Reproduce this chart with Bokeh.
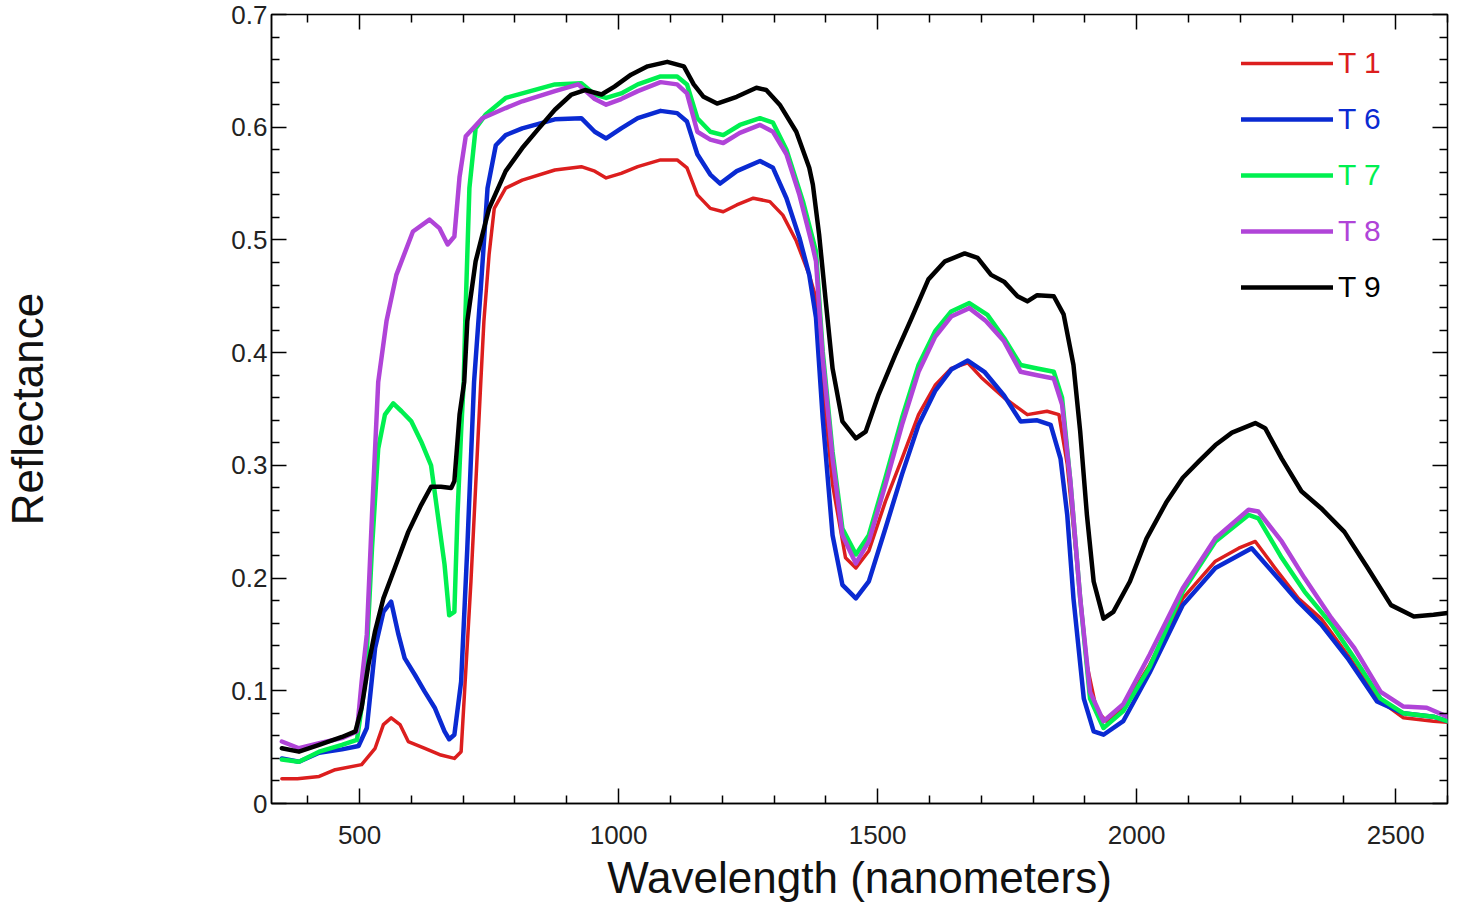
from bokeh.plotting import figure
from bokeh.models import LinearAxis, FixedTicker, Range1d, Legend, LegendItem
from bokeh.embed import file_html
from bokeh.resources import INLINE

# ---------------- data ----------------
X_TICKS = [500, 1000, 1500, 2000, 2500]
X_MINOR = [400, 600, 700, 800, 900, 1100, 1200, 1300, 1400, 1600, 1700, 1800,
           1900, 2100, 2200, 2300, 2400, 2600]
Y_TICKS = [0, 0.1, 0.2, 0.3, 0.4, 0.5, 0.6, 0.7]
Y_MINOR = [0.02, 0.04, 0.06, 0.08, 0.12, 0.14, 0.16, 0.18, 0.22, 0.24, 0.26, 0.28,
           0.32, 0.34, 0.36, 0.38, 0.42, 0.44, 0.46, 0.48, 0.52, 0.54, 0.56, 0.58,
           0.62, 0.64, 0.66, 0.68]
Y_LABELS = {0: "0"}

NAMES = ["T 1", "T 6", "T 7", "T 8", "T 9"]
COLORS = ["#dc1e1e", "#0a2ad2", "#00f050", "#b044d8", "#000000"]

WL_T1 = [350, 380, 422, 453, 504, 530, 546, 561, 578, 594, 626, 657, 683, 696, 715, 734,
         740, 750, 760, 782, 814, 877, 928, 954, 976, 1005, 1037, 1081, 1113, 1132, 1152,
         1177, 1202, 1228, 1260, 1292, 1317, 1343, 1368, 1380, 1394, 1413, 1438, 1458,
         1483, 1515, 1547, 1579, 1611, 1642, 1674, 1700, 1744, 1789, 1827, 1850, 1866,
         1885, 1904, 1923, 1942, 1974, 2025, 2089, 2152, 2197, 2229, 2267, 2312, 2356,
         2407, 2464, 2515, 2573, 2600]
T1 = [0.022, 0.022, 0.024, 0.030, 0.0345, 0.049, 0.070, 0.076, 0.070, 0.055, 0.049, 0.043,
      0.040, 0.046, 0.197, 0.374, 0.428, 0.487, 0.528, 0.546, 0.553, 0.562, 0.565, 0.561,
      0.555, 0.559, 0.565, 0.571, 0.571, 0.564, 0.540, 0.528, 0.525, 0.531, 0.537, 0.534,
      0.522, 0.499, 0.469, 0.450, 0.372, 0.283, 0.218, 0.209, 0.224, 0.268, 0.306, 0.345,
      0.371, 0.386, 0.391, 0.378, 0.360, 0.345, 0.348, 0.345, 0.301, 0.212, 0.123, 0.082,
      0.073, 0.085, 0.123, 0.182, 0.215, 0.2265, 0.2325, 0.209, 0.182, 0.164, 0.132, 0.093,
      0.076, 0.073, 0.072]

WL_T6 = [350, 383, 422, 466, 498, 514, 530, 546, 561, 575, 587, 607, 626, 645, 664, 673,
         683, 696, 708, 721, 734, 747, 763, 782, 814, 877, 928, 954, 976, 1005, 1037, 1081,
         1113, 1132, 1152, 1177, 1196, 1228, 1273, 1298, 1324, 1349, 1368, 1381, 1394, 1413,
         1432, 1458, 1483, 1515, 1547, 1579, 1611, 1642, 1674, 1706, 1744, 1776, 1808, 1834,
         1853, 1866, 1878, 1898, 1917, 1936, 1974, 2025, 2089, 2152, 2222, 2267, 2312, 2356,
         2407, 2464, 2515, 2573, 2600]
T6 = [0.040, 0.037, 0.045, 0.048, 0.051, 0.067, 0.138, 0.170, 0.179, 0.150, 0.129, 0.114,
      0.099, 0.085, 0.064, 0.057, 0.061, 0.108, 0.227, 0.374, 0.457, 0.546, 0.584, 0.593,
      0.599, 0.607, 0.608, 0.596, 0.590, 0.599, 0.608, 0.6145, 0.6125, 0.605, 0.576, 0.558,
      0.550, 0.561, 0.570, 0.564, 0.537, 0.502, 0.469, 0.431, 0.342, 0.238, 0.194, 0.182,
      0.197, 0.244, 0.292, 0.336, 0.366, 0.385, 0.393, 0.383, 0.362, 0.339, 0.340, 0.336,
      0.306, 0.256, 0.182, 0.093, 0.064, 0.061, 0.073, 0.116, 0.176, 0.209, 0.2265, 0.203,
      0.179, 0.159, 0.129, 0.0905, 0.080, 0.077, 0.073]

WL_T7 = [350, 383, 422, 466, 495, 511, 524, 536, 549, 565, 581, 600, 619, 638, 651, 664,
         673, 683, 689, 696, 701, 704, 712, 724, 743, 782, 814, 877, 928, 954, 976, 1005,
         1037, 1081, 1113, 1132, 1152, 1177, 1202, 1234, 1273, 1298, 1324, 1356, 1381, 1394,
         1413, 1432, 1458, 1483, 1515, 1547, 1579, 1611, 1642, 1677, 1712, 1744, 1776, 1808,
         1840, 1856, 1872, 1891, 1910, 1936, 1974, 2025, 2089, 2152, 2216, 2235, 2280, 2324,
         2376, 2420, 2471, 2515, 2573, 2600]
T7 = [0.039, 0.037, 0.046, 0.052, 0.0565, 0.108, 0.2265, 0.315, 0.345, 0.355, 0.348, 0.339,
      0.321, 0.300, 0.256, 0.212, 0.167, 0.170, 0.256, 0.330, 0.374, 0.428, 0.546, 0.599,
      0.611, 0.626, 0.630, 0.638, 0.639, 0.629, 0.626, 0.630, 0.638, 0.645, 0.645, 0.638,
      0.608, 0.596, 0.593, 0.602, 0.608, 0.604, 0.580, 0.534, 0.490, 0.401, 0.312, 0.244,
      0.221, 0.238, 0.289, 0.342, 0.389, 0.419, 0.4365, 0.444, 0.4335, 0.413, 0.389, 0.386,
      0.383, 0.360, 0.286, 0.182, 0.093, 0.067, 0.082, 0.121, 0.188, 0.2325, 0.256, 0.253,
      0.218, 0.188, 0.159, 0.129, 0.093, 0.080, 0.077, 0.073]

WL_T8 = [350, 383, 422, 466, 495, 504, 514, 524, 536, 552, 571, 603, 635, 654, 670, 683,
         693, 705, 737, 782, 814, 877, 922, 954, 976, 1005, 1037, 1081, 1113, 1132, 1152,
         1177, 1202, 1234, 1273, 1298, 1324, 1349, 1375, 1381, 1394, 1413, 1432, 1458, 1483,
         1515, 1547, 1579, 1611, 1642, 1677, 1709, 1744, 1776, 1808, 1840, 1856, 1872, 1891,
         1910, 1936, 1974, 2025, 2089, 2152, 2216, 2235, 2280, 2324, 2376, 2420, 2471, 2515,
         2560, 2600]
T8 = [0.055, 0.049, 0.0535, 0.058, 0.064, 0.108, 0.150, 0.256, 0.374, 0.428, 0.469, 0.5075,
      0.518, 0.5105, 0.496, 0.503, 0.556, 0.592, 0.608, 0.617, 0.623, 0.632, 0.638, 0.625,
      0.620, 0.625, 0.632, 0.640, 0.638, 0.630, 0.596, 0.589, 0.586, 0.595, 0.602, 0.596,
      0.576, 0.540, 0.493, 0.481, 0.395, 0.306, 0.238, 0.213, 0.2325, 0.283, 0.336, 0.383,
      0.414, 0.432, 0.4395, 0.428, 0.410, 0.383, 0.380, 0.377, 0.354, 0.286, 0.182, 0.099,
      0.073, 0.088, 0.132, 0.191, 0.2354, 0.2606, 0.259, 0.2325, 0.200, 0.1644, 0.138, 0.099,
      0.086, 0.085, 0.077]

WL_T9 = [350, 383, 422, 466, 492, 504, 517, 530, 546, 568, 594, 619, 638, 657, 677, 683,
         693, 702, 708, 724, 750, 782, 814, 846, 877, 909, 935, 967, 992, 1024, 1056, 1094,
         1126, 1145, 1164, 1190, 1228, 1266, 1285, 1311, 1343, 1368, 1375, 1387, 1400, 1413,
         1432, 1458, 1477, 1502, 1534, 1566, 1598, 1630, 1668, 1693, 1719, 1744, 1770, 1789,
         1808, 1840, 1859, 1878, 1891, 1904, 1917, 1936, 1955, 1987, 2019, 2057, 2089, 2120,
         2152, 2184, 2229, 2248, 2280, 2318, 2356, 2401, 2446, 2491, 2535, 2573, 2600]
T9 = [0.049, 0.046, 0.052, 0.059, 0.064, 0.085, 0.123, 0.153, 0.182, 0.209, 0.241, 0.265,
      0.281, 0.281, 0.280, 0.286, 0.345, 0.374, 0.428, 0.481, 0.528, 0.561, 0.5815, 0.599,
      0.6155, 0.629, 0.633, 0.629, 0.636, 0.6466, 0.654, 0.658, 0.654, 0.638, 0.627, 0.621,
      0.627, 0.635, 0.633, 0.620, 0.596, 0.564, 0.549, 0.505, 0.445, 0.386, 0.339, 0.324,
      0.330, 0.363, 0.398, 0.431, 0.465, 0.481, 0.488, 0.484, 0.469, 0.463, 0.450, 0.4455,
      0.451, 0.450, 0.434, 0.389, 0.330, 0.256, 0.197, 0.164, 0.170, 0.197, 0.235, 0.267,
      0.289, 0.3035, 0.318, 0.329, 0.3375, 0.333, 0.306, 0.277, 0.262, 0.241, 0.209, 0.176,
      0.166, 0.1674, 0.169]

SERIES = [(WL_T1, T1), (WL_T6, T6), (WL_T7, T7), (WL_T8, T8), (WL_T9, T9)]
WIDTHS = [3.5, 4.5, 4.5, 4.5, 4.5]

FONT = "Liberation Sans"

p = figure(width=1450, height=904, output_backend="svg", toolbar_location=None,
           x_range=Range1d(330, 2600), y_range=Range1d(0, 0.7),
           min_border_left=268, min_border_right=3, min_border_top=14, min_border_bottom=2)
p.xgrid.visible = False
p.ygrid.visible = False
p.outline_line_color = "black"
p.outline_line_width = 1.5
p.background_fill_color = "white"
p.border_fill_color = "white"


def style_axis(ax):
    ax.axis_line_color = "black"
    ax.axis_line_width = 1.5
    ax.major_tick_in = 15
    ax.major_tick_out = 0
    ax.minor_tick_in = 8
    ax.minor_tick_out = 0
    ax.major_tick_line_width = 1.5
    ax.minor_tick_line_width = 1.5
    ax.major_tick_line_color = "black"
    ax.minor_tick_line_color = "black"
    ax.major_label_text_font = FONT
    ax.major_label_text_color = "#222222"
    ax.axis_label_text_font = FONT
    ax.axis_label_text_font_style = "normal"
    ax.axis_label_text_color = "#111111"


xa = p.xaxis[0]
xa.ticker = FixedTicker(ticks=X_TICKS, minor_ticks=X_MINOR)
style_axis(xa)
xa.major_label_text_font_size = "26px"
xa.major_label_standoff = 22
xa.axis_label = "Wavelength (nanometers)"
xa.axis_label_text_font_size = "44px"
xa.axis_label_standoff = 6

ya = p.yaxis[0]
ya.ticker = FixedTicker(ticks=Y_TICKS, minor_ticks=Y_MINOR)
style_axis(ya)
ya.major_label_text_font_size = "26px"
ya.major_label_standoff = 4
ya.major_label_overrides = Y_LABELS
ya.axis_label = "Reflectance"
ya.axis_label_text_font_size = "44px"
ya.axis_label_standoff = 176


# tick marks on the top and right frame edges: label-free axes whose
# "minor" ticks carry both the short and (on a second axis) the long marks
def tick_only_axis(minor, length):
    ax = LinearAxis(ticker=FixedTicker(ticks=[], minor_ticks=minor))
    ax.axis_line_color = None
    ax.major_tick_line_color = None
    ax.minor_tick_in = length
    ax.minor_tick_out = 0
    ax.minor_tick_line_width = 1.5
    ax.minor_tick_line_color = "black"
    ax.major_label_standoff = 0
    return ax


p.add_layout(tick_only_axis(X_MINOR, 8), "above")
p.add_layout(tick_only_axis(X_TICKS, 15), "above")
p.add_layout(tick_only_axis(Y_MINOR, 8), "right")
p.add_layout(tick_only_axis(Y_TICKS, 15), "right")

renderers = []
for (wl, vals), c, w in zip(SERIES, COLORS, WIDTHS):
    r = p.line(wl, vals, line_color=c, line_width=w, line_join="round", line_cap="round")
    renderers.append(r)

# one legend per entry so each label can take its series colour
for i, (name, c, r) in enumerate(zip(NAMES, COLORS, renderers)):
    leg = Legend(items=[LegendItem(label=name, renderers=[r])],
                 location=(970, 723 - i * 56),
                 glyph_width=92, glyph_height=30, label_height=30,
                 label_standoff=5, padding=0, margin=0, spacing=0,
                 border_line_color=None, background_fill_alpha=0,
                 label_text_color=c, label_text_font=FONT,
                 label_text_font_size="30px")
    p.add_layout(leg)

open("out.html", "w").write(file_html(p, INLINE))
